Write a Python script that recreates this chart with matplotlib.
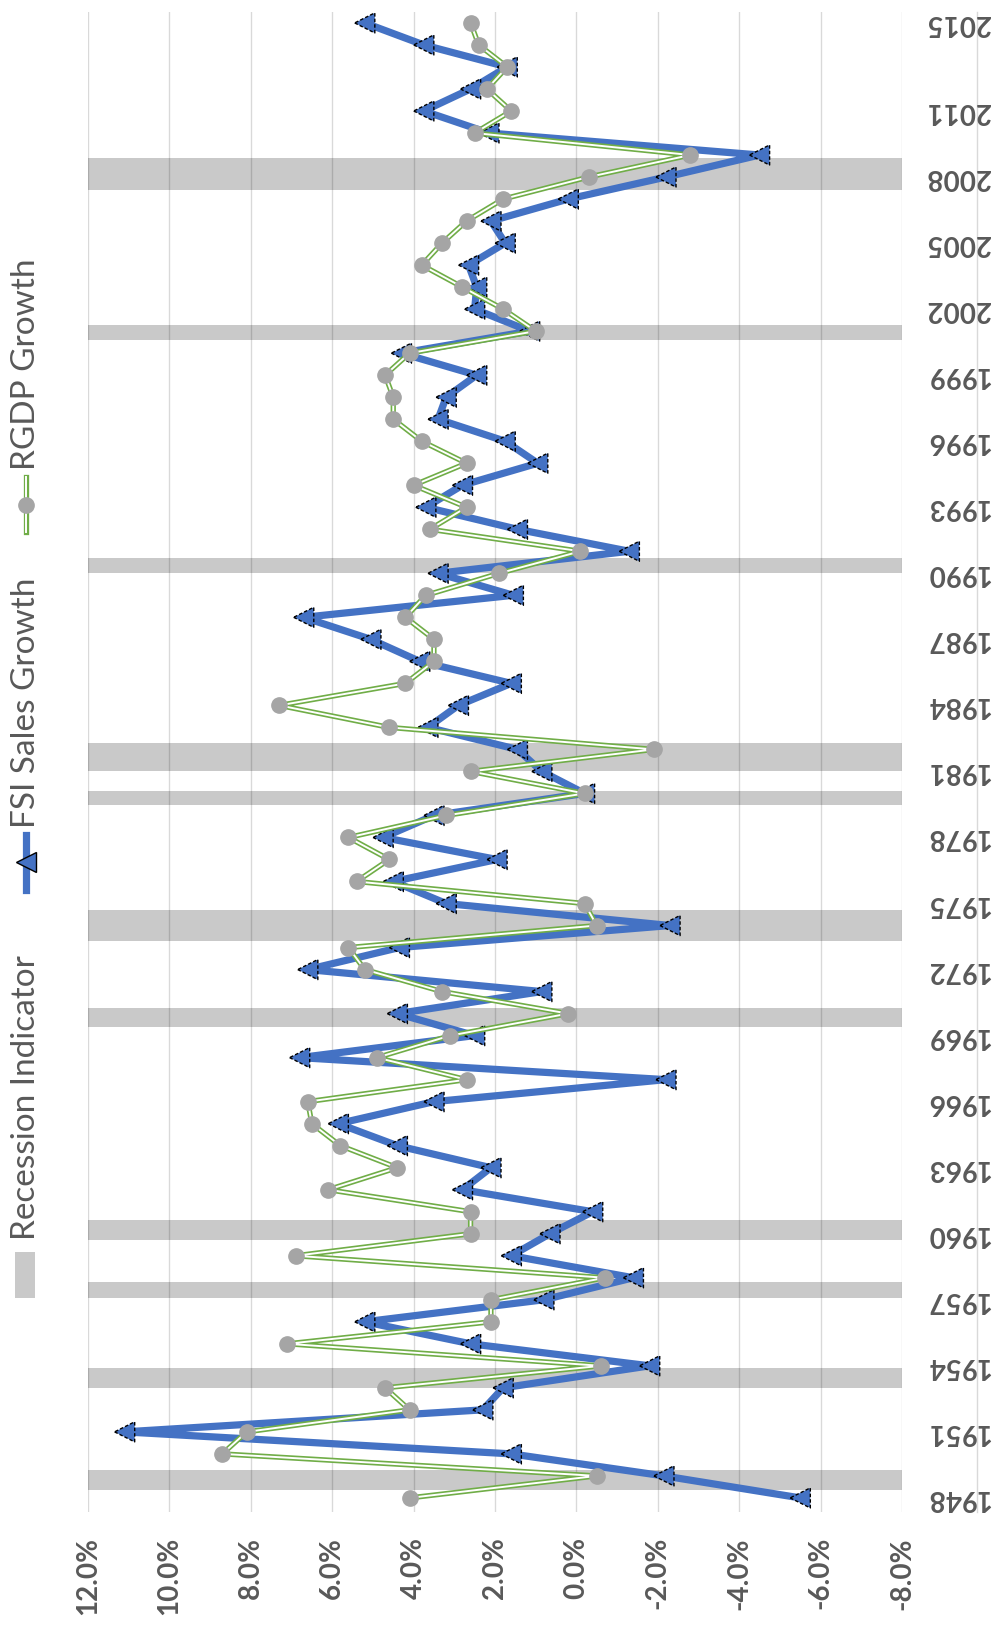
import matplotlib
matplotlib.use("Agg")
import matplotlib.pyplot as plt
from matplotlib.lines import Line2D
from matplotlib.patches import Rectangle
import numpy as np

plt.rcParams['font.family'] = ['Lato', 'DejaVu Sans']

years = np.arange(1948, 2016)

fsi_growth = [-5.5, -2.15, 1.6, 11.1, 2.3, 1.8, -1.8, 2.6, 5.2, 0.8,
              -1.4, 1.6, 0.65, -0.4, 2.8, 2.1, 4.4, 5.85, 3.5, -2.2,
              6.8, 2.5, 4.4, 0.85, 6.6, 4.35, -2.3, 3.2, 4.5, 1.95,
              4.75, 3.5, -0.2, 0.85, 1.45, 3.65, 2.9, 1.6, 3.85, 5.05,
              6.7, 1.55, 3.4, -1.3, 1.45, 3.7, 2.8, 0.95, 1.75, 3.4,
              3.2, 2.45, 4.3, 1.15, 2.5, 2.45, 2.65, 1.75, 2.1, 0.2,
              -2.2, -4.5, 2.15, 3.75, 2.6, 1.7, 3.75, 5.2]

rgdp_growth = [4.1, -0.5, 8.7, 8.1, 4.1, 4.7, -0.6, 7.1, 2.1, 2.1,
               -0.7, 6.9, 2.6, 2.6, 6.1, 4.4, 5.8, 6.5, 6.6, 2.7,
               4.9, 3.1, 0.2, 3.3, 5.2, 5.6, -0.5, -0.2, 5.4, 4.6,
               5.6, 3.2, -0.2, 2.6, -1.9, 4.6, 7.3, 4.2, 3.5, 3.5,
               4.2, 3.7, 1.9, -0.1, 3.6, 2.7, 4.0, 2.7, 3.8, 4.5,
               4.5, 4.7, 4.1, 1.0, 1.8, 2.8, 3.8, 3.3, 2.7, 1.8,
               -0.3, -2.8, 2.5, 1.6, 2.2, 1.7, 2.4, 2.6]

# recession periods as drawn (year units)
rec_start = [1948.36, 1952.98, 1957.07, 1959.72, 1969.41, 1973.28,
             1979.49, 1981.0, 1990.01, 2000.61, 2007.43]
rec_end = [1949.27, 1953.89, 1957.83, 1960.63, 1970.25, 1974.72,
           1980.09, 1982.29, 1990.69, 2001.27, 2008.87]

pct_ticks = [12, 10, 8, 6, 4, 2, 0, -2, -4, -6, -8]
year_ticks = [1948, 1951, 1954, 1957, 1960, 1963, 1966, 1969, 1972, 1975,
              1978, 1981, 1984, 1987, 1990, 1993, 1996, 1999, 2002, 2005,
              2008, 2011, 2015]

blue = '#4472C4'
green = '#70AD47'
grey = '#A5A5A5'
band = '#C9C9C9'
txt = '#595959'

W, H = 995, 1625
fig = plt.figure(figsize=(W / 100, H / 100), dpi=100)
ax = fig.add_axes([88 / W, 1 - 1512 / H, (902 - 88) / W, (1512 - 11.7) / H])

for s, e in zip(rec_start, rec_end):
    ax.axhspan(s, e, color=band, lw=0, zorder=0.4)

ax.set_axisbelow(True)
ax.grid(axis='x', color='k', alpha=0.15, lw=1.0)
ax.grid(axis='y', visible=False)

ax.plot(fsi_growth, years, color=blue, lw=5.2, zorder=3, solid_joinstyle='round')
ax.scatter(fsi_growth, years, marker='<', s=210, c=blue, edgecolors='k',
           linewidths=1.0, linestyle=(0, (2.5, 1.5)), zorder=4)

ax.plot(rgdp_growth, years, color=green, lw=3.8, zorder=5, solid_joinstyle='round')
ax.plot(rgdp_growth, years, color='white', lw=1.4, zorder=5.1, solid_joinstyle='round')
ax.plot(rgdp_growth, years, 'o', ms=11, color=grey, mec=grey, zorder=6)

ax.set_xlim(12, -8)
ax.set_ylim(1947.36, 2015.51)

ax.set_xticks(pct_ticks, [f"{v:.1f}%" for v in pct_ticks], rotation=90,
              fontsize=20, fontweight='bold', color=txt)
ax.yaxis.tick_right()
ax.set_yticks(year_ticks, [str(y) for y in year_ticks], rotation=180,
              fontsize=20, fontweight='bold', color=txt)
for lab in ax.get_yticklabels():
    lab.set_va('center')
ax.tick_params(axis='x', length=0, pad=18)
ax.tick_params(axis='y', length=0, pad=17)
for sp in ax.spines.values():
    sp.set_visible(False)

# faint line behind year labels
ax.plot([(977 - 88) / (902 - 88)] * 2, [0, 1], transform=ax.transAxes,
        color='#D9D9D9', lw=1.0, clip_on=False, zorder=0.3)

# legend, rotated
def fx(px):
    return px / W

def fy(py):
    return 1 - py / H

fig.patches.append(Rectangle((fx(15), fy(1298)), 20 / W, 46 / H,
                             transform=fig.transFigure, color=band, lw=0))
fig.text(fx(26), fy(1240), 'Recession Indicator', rotation=90, ha='center',
         va='bottom', fontsize=24, color=txt)

fig.add_artist(Line2D([fx(26), fx(26)], [fy(890), fy(835)], color=blue, lw=5.2,
                      transform=fig.transFigure))
fig.add_artist(Line2D([fx(26)], [fy(862)], marker='<', ms=14.5, color=blue,
                      mec='k', mew=1.0, transform=fig.transFigure))
fig.text(fx(26), fy(828), 'FSI Sales Growth', rotation=90, ha='center',
         va='bottom', fontsize=24, color=txt)

fig.add_artist(Line2D([fx(26), fx(26)], [fy(532), fy(477)], color=green, lw=3.8,
                      transform=fig.transFigure))
fig.add_artist(Line2D([fx(26), fx(26)], [fy(532), fy(477)], color='white', lw=1.4,
                      transform=fig.transFigure))
fig.add_artist(Line2D([fx(26)], [fy(505)], marker='o', ms=11, color=grey,
                      mec=grey, transform=fig.transFigure))
fig.text(fx(26), fy(470), 'RGDP Growth', rotation=90, ha='center',
         va='bottom', fontsize=24, color=txt)

fig.savefig('out.png', dpi=100, facecolor='white')
